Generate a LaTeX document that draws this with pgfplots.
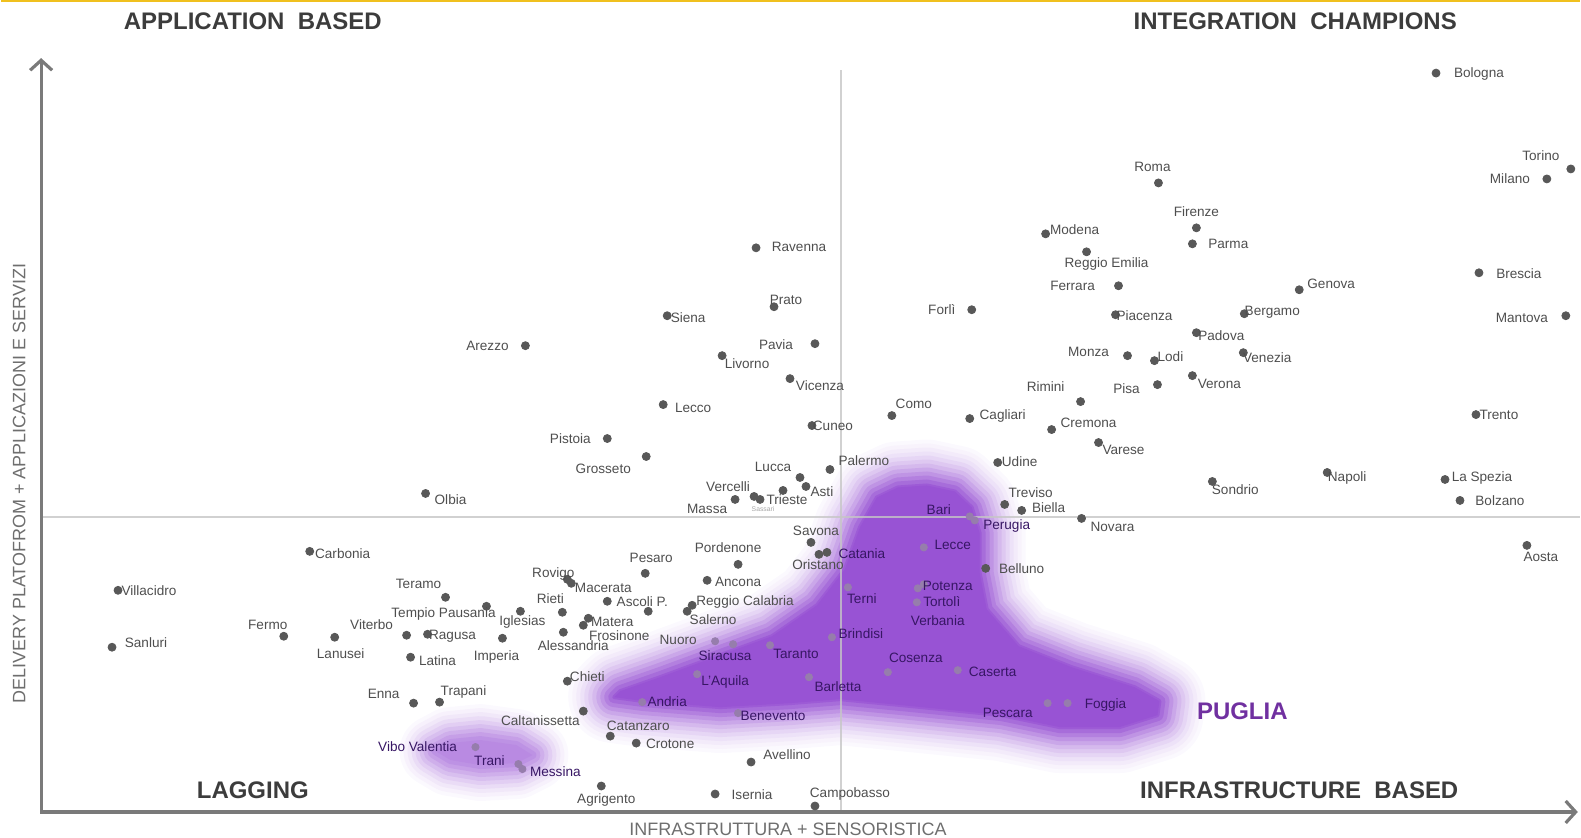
\documentclass[border=0pt]{standalone}
\usepackage{fontspec}
\setmainfont{Liberation Sans}
\usepackage{pgfplots}
\usepackage{pgfplotstable}
\pgfplotsset{compat=1.18}
\usetikzlibrary{arrows.meta}
\definecolor{pp}{RGB}{138,60,206}
\definecolor{labgray}{RGB}{78,78,78}
\definecolor{labpurple}{RGB}{55,22,100}
\definecolor{dotgray}{RGB}{88,88,88}
\definecolor{dotpurple}{RGB}{150,125,172}
\definecolor{axgray}{RGB}{122,122,122}
\definecolor{hdr}{RGB}{60,60,60}
\definecolor{yel}{RGB}{240,192,30}
\definecolor{pug}{RGB}{112,48,160}
\newcommand{\lab}{\fontsize{6.8}{8}\selectfont}

\pgfplotstableread[col sep=comma]{
x,y
1437,73
1572,169
1548,179
1159,183
1197,228
1193,244
1046,234
1087,252
756,248
1480,273
1119,286
1300,290
972,310
774,307
1245,314
1116,315
667,316
1567,316
1197,333
525,346
815,344
722,356
1244,353
1128,356
1155,361
1193,376
790,379
1158,385
1081,402
663,405
1477,415
892,416
970,419
812,426
1052,430
607,439
1099,443
646,457
998,463
830,470
1328,473
800,478
1446,480
1213,482
806,487
425,494
783,491
1461,501
735,500
754,497
760,500
1005,505
1022,511
1082,519
1528,546
309,552
811,543
819,555
827,553
738,565
986,569
645,574
707,581
571,584
567,580
117,591
445,598
607,602
692,606
486,607
687,612
520,612
562,613
648,612
588,619
583,626
563,633
406,636
427,635
283,637
334,638
502,639
111,648
410,658
567,682
413,704
439,703
583,712
610,737
636,744
751,763
601,787
715,795
815,807
}\ptsOut

\pgfplotstableread[col sep=comma]{
x,y
970,517
975,521
924,548
848,588
918,589
924,585
917,603
715,642
733,645
770,646
832,638
888,673
958,671
697,675
809,678
642,703
1048,704
1068,704
738,714
475,748
518,765
522,770
}\ptsIn

\pgfplotstableread[col sep=comma]{
x,y,name
1480,74,Bologna
1542,156,Torino
1511,179,Milano
1153,167,Roma
1197,212,Firenze
1229,244,Parma
1075,230,Modena
1107,264,Reggio Emilia
799,247,Ravenna
1520,274,Brescia
1073,286,Ferrara
1332,284,Genova
942,310,Forlì
786,300,Prato
1273,313,Bergamo
1145,316,Piacenza
688,318,Siena
1523,318,Mantova
1222,336,Padova
487,346,Arezzo
776,345,Pavia
747,364,Livorno
1268,358,Venezia
1089,352,Monza
1171,357,Lodi
1220,384,Verona
820,386,Vicenza
1127,389,Pisa
1046,387,Rimini
693,408,Lecco
1500,415,Trento
914,404,Como
1003,416,Cagliari
833,426,Cuneo
1089,423,Cremona
570,439,Pistoia
1124,450,Varese
603,469,Grosseto
1020,462,Udine
864,461,Palermo
1348,479,Napoli
773,467,Lucca
1483,479,La Spezia
1236,490,Sondrio
822,492,Asti
450,500,Olbia
728,487,Vercelli
787,500,Trieste
707,509,Massa
1501,501,Bolzano
1031,493,Treviso
1049,508,Biella
1113,527,Novara
1542,558,Aosta
342,554,Carbonia
816,531,Savona
818,565,Oristano
728,548,Pordenone
1022,569,Belluno
651,559,Pesaro
738,583,Ancona
553,575,Rovigo
603,589,Macerata
148,591,Villacidro
418,585,Teramo
550,599,Rieti
642,602,Ascoli P.
745,603,Reggio Calabria
443,615,Tempio Pausania
713,620,Salerno
522,623,Iglesias
612,623,Matera
619,636,Frosinone
573,646,Alessandria
371,625,Viterbo
267,626,Fermo
452,637,Ragusa
145,643,Sanluri
340,654,Lanusei
496,658,Imperia
437,661,Latina
678,641,Nuoro
587,677,Chieti
383,695,Enna
463,693,Trapani
540,722,Caltanissetta
638,727,Catanzaro
670,745,Crotone
787,756,Avellino
606,801,Agrigento
752,796,Isernia
850,795,Campobasso
}\labOut

\pgfplotstableread[col sep=comma]{
x,y,name
939,510,Bari
1007,527,Perugia
862,554,Catania
953,546,Lecce
862,599,Terni
948,587,Potenza
942,602,Tortolì
938,621,Verbania
861,634,Brindisi
796,655,Taranto
725,656,Siracusa
725,683,L'Aquila
838,687,Barletta
916,659,Cosenza
993,673,Caserta
667,703,Andria
773,717,Benevento
1008,714,Pescara
1106,706,Foggia
417,748,Vibo Valentia
489,762,Trani
555,773,Messina
}\labIn

\pgfplotstableread[col sep=comma]{
x,y
927,486
955,492
972,508
980,534
980,574
987,610
1019,647
1072,668
1135,688
1160,702
1158,716
1120,728
1060,728
1002,716
902,706
840,700
790,704
720,708
644,702
614,698
620,692
660,678
709,660
772,637
817,606
845,570
860,528
877,498
898,488
927,486
}\blobA

\pgfplotstableread[col sep=comma]{
x,y
435,752
450,744
480,741
516,746
532,756
516,764
480,766
450,761
435,752
}\blobB

\pgfplotsset{
  feather/.style 2 args={draw=#1, line width=#2, line join=round, line cap=round, forget plot},
}

\begin{document}
\begin{tikzpicture}
\begin{axis}[
  width=790.5pt, height=419.5pt, scale only axis,
  xmin=0, xmax=1581, ymin=0, ymax=839, y dir=reverse,
  hide axis, clip=false,
]
% bounding corners
\addplot[draw=none, forget plot] coordinates {(0,0) (1581,839)};
% top yellow rule
\addplot[yel, line width=1.2pt, forget plot] coordinates {(0,1) (1581,1)};

% purple cloud (main)
\addplot[feather={pp!3}{46pt}] table[x=x,y=y] {\blobA};
\addplot[feather={pp!6}{42pt}] table[x=x,y=y] {\blobA};
\addplot[feather={pp!10}{38pt}] table[x=x,y=y] {\blobA};
\addplot[feather={pp!15}{34pt}] table[x=x,y=y] {\blobA};
\addplot[feather={pp!21}{30pt}] table[x=x,y=y] {\blobA};
\addplot[feather={pp!28}{26pt}] table[x=x,y=y] {\blobA};
\addplot[feather={pp!36}{22pt}] table[x=x,y=y] {\blobA};
\addplot[feather={pp!45}{18pt}] table[x=x,y=y] {\blobA};
\addplot[feather={pp!55}{14pt}] table[x=x,y=y] {\blobA};
\addplot[feather={pp!65}{10pt}] table[x=x,y=y] {\blobA};
\addplot[feather={pp!75}{6pt}] table[x=x,y=y] {\blobA};
\addplot[feather={pp!84}{2pt}] table[x=x,y=y] {\blobA};
\addplot[fill=pp!88, draw=none, forget plot] table[x=x,y=y] {\blobA};
% purple cloud (small)
\addplot[feather={pp!3}{36pt}] table[x=x,y=y] {\blobB};
\addplot[feather={pp!7}{32pt}] table[x=x,y=y] {\blobB};
\addplot[feather={pp!12}{28pt}] table[x=x,y=y] {\blobB};
\addplot[feather={pp!18}{24pt}] table[x=x,y=y] {\blobB};
\addplot[feather={pp!25}{20pt}] table[x=x,y=y] {\blobB};
\addplot[feather={pp!33}{16pt}] table[x=x,y=y] {\blobB};
\addplot[feather={pp!41}{12pt}] table[x=x,y=y] {\blobB};
\addplot[feather={pp!49}{8pt}] table[x=x,y=y] {\blobB};
\addplot[feather={pp!56}{4pt}] table[x=x,y=y] {\blobB};
\addplot[fill=pp!60, draw=none, forget plot] table[x=x,y=y] {\blobB};

% quadrant lines
\addplot[gray!45, opacity=0.8, line width=1pt, forget plot] coordinates {(841,70) (841,813)};
\addplot[gray!45, opacity=0.8, line width=1pt, forget plot] coordinates {(40,518) (1581,518)};
% axes arrows
\addplot[axgray, line width=1.6pt, -{Straight Barb[length=5pt,width=11pt]}, forget plot] coordinates {(40,813) (40,58)};
\addplot[axgray, line width=1.6pt, -{Straight Barb[length=5pt,width=11pt]}, forget plot] coordinates {(39.2,813) (1579,813)};

% points
\addplot[only marks, mark=*, mark size=2pt, color=dotgray, forget plot] table[x=x,y=y] {\ptsOut};
\addplot[only marks, mark=*, mark size=1.8pt, color=dotpurple, forget plot] table[x=x,y=y] {\ptsIn};

% labels
\addplot[draw=none, mark=none, forget plot, nodes near coords={\pgfplotspointmeta}, point meta=explicit symbolic,
  every node near coord/.append style={anchor=center, inner sep=0pt, font=\lab, text=labgray}]
  table[x=x,y=y,meta=name] {\labOut};
\addplot[draw=none, mark=none, forget plot, nodes near coords={\pgfplotspointmeta}, point meta=explicit symbolic,
  every node near coord/.append style={anchor=center, inner sep=0pt, font=\lab, text=labpurple}]
  table[x=x,y=y,meta=name] {\labIn};
\node[font=\fontsize{3.4}{4}\selectfont, text=gray!70, inner sep=0pt] at (axis cs:763,510) {Sassari};

% quadrant titles
\node[font=\fontsize{12}{14}\selectfont\bfseries, text=hdr, inner sep=0pt] at (axis cs:252,21) {APPLICATION\ \ BASED};
\node[font=\fontsize{12}{14}\selectfont\bfseries, text=hdr, inner sep=0pt] at (axis cs:1296,21) {INTEGRATION\ \ CHAMPIONS};
\node[font=\fontsize{12}{14}\selectfont\bfseries, text=hdr, inner sep=0pt] at (axis cs:252,791) {LAGGING};
\node[font=\fontsize{12}{14}\selectfont\bfseries, text=hdr, inner sep=0pt] at (axis cs:1300,791) {INFRASTRUCTURE\ \ BASED};
\node[font=\fontsize{12}{14}\selectfont\bfseries, text=pug, inner sep=0pt] at (axis cs:1243,712) {PUGLIA};
% axis titles
\node[font=\fontsize{9}{11}\selectfont, text=axgray!90!black, inner sep=0pt] at (axis cs:788,830) {INFRASTRUTTURA + SENSORISTICA};
\node[font=\fontsize{9}{11}\selectfont, text=axgray!90!black, inner sep=0pt, rotate=90] at (axis cs:18,484) {DELIVERY PLATOFROM + APPLICAZIONI E SERVIZI};
\end{axis}
\end{tikzpicture}
\end{document}
